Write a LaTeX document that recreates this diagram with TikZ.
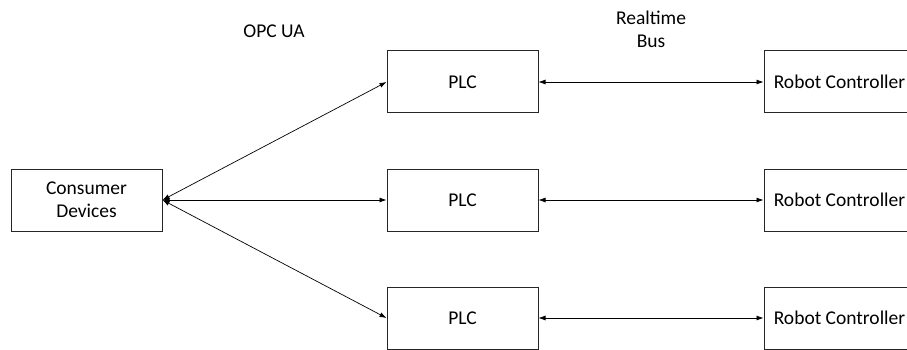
\documentclass[tikz,border=0pt]{standalone}
\usepackage{fontspec}
\setmainfont{Carlito}
\usetikzlibrary{arrows.meta}

\tikzset{
    box/.style={draw=black!85, line width=1pt, minimum width=151pt, minimum height=62pt,
        inner sep=0pt, align=center, font=\fontsize{19.5}{23}\selectfont},
    link/.style={line width=0.7pt, {Latex[length=7pt,width=5pt]}-{Latex[length=7pt,width=5pt]}},
    lbl/.style={align=center, font=\fontsize{19.5}{23}\selectfont}
}

\begin{document}
\begin{tikzpicture}[x=1pt,y=-1pt]

    \useasboundingbox (0,0) rectangle (907,350);

    \node[box] (cons) at (86.5,200) {Consumer\\Devices};

    \foreach \n/\y in {1/82, 2/200, 3/318} {
        \node[box] (plc\n) at (462.5,\y) {PLC};
        \node[box] (robot\n) at (839.5,\y) {Robot Controller};
        \draw[link] (cons.east) -- (plc\n.west);
        \draw[link] (plc\n.east) -- (robot\n.west);
    }

    % labels over the links
    \node[lbl] (opc) at (274,31) {OPC UA};
    \node[lbl] (bus) at (651,29) {Realtime\\Bus};

\end{tikzpicture}
\end{document}
